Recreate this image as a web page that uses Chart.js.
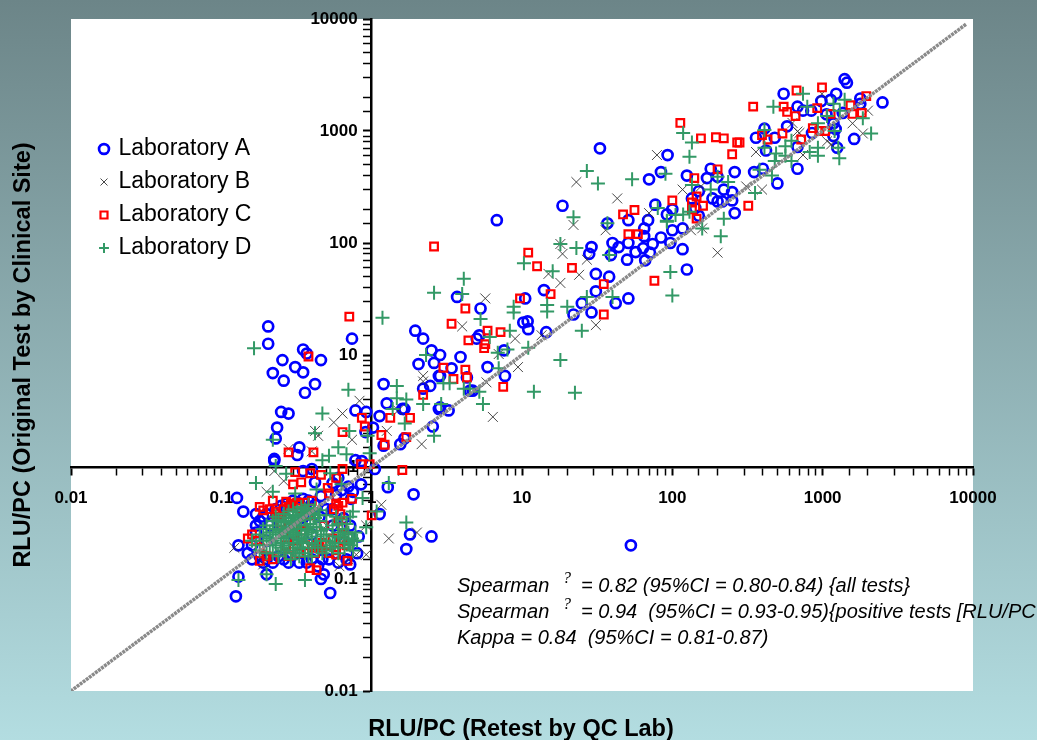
<!DOCTYPE html>
<html><head><meta charset="utf-8">
<script src="https://cdn.jsdelivr.net/npm/chart.js@4/dist/chart.umd.min.js"></script>
<style>html,body{margin:0;padding:0;width:1037px;height:740px;overflow:hidden;background:linear-gradient(180deg,#6c8588 0%,#b3dde1 100%)}canvas{display:block}</style>
</head><body><canvas id="c" width="1037" height="740"></canvas>
<script>
const seriesNames=['Laboratory A','Laboratory B','Laboratory C','Laboratory D'];
const axisLimits=[0.01,10000];
const identityLine=[[0.0095,0.0095],[9000,9000]];
const labA=[[.205,18],[.205,12.6],[.35,11.2],[.37,10.3],[.255,9],[.46,9],[.31,7.8],[.35,7],[.22,6.9],[.26,5.9],[.42,5.5],[.36,4.6],[.74,14],[.25,3.1],[.28,3],[.235,2.25],[.23,1.8],[.33,1.5],[.32,1.28],[.225,1.18],[.225,1.13],[.78,3.2],[.92,3.1],[.91,2.05],[.78,1.15],[.86,1.13],[.35,.92],[.4,.96],[.42,.73],[.46,.55],[.127,.53],[.14,.4],[.17,.38],[.13,.2],[.13,.105],[.125,.07],[.2,.11],[.46,.1],[.48,.11],[.53,.075],[.72,.135],[.73,.52],[1.05,.96],[1.13,.38],[1.28,.66],[1.9,.57],[1.8,.25],[2.5,.24],[1.7,.185],[53,.2],
[1.95,16.5],[2.2,14],[2.5,11],[2.05,8.3],[2.6,8.5],[2.8,6.5],[1.2,5.5],[2.2,5],[1.26,3.7],[1.6,3.3],[1.65,3.3],[1.13,2.85],[2.55,2.3],[1.02,2.25],[1.2,1.55],[1.55,1.6],[1.65,1.8],[2.8,3.3],
[33,700],[6.8,160],[18.6,215],[93,610],[84,430],[70,370],[77,220],[92,180],[51,160],[69,160],[37,150],[65,135],[65,115],[40,100],[44,92],[51,100],[57,83],[64,90],[74,98],[84,112],[29,92],[28,80],[39,78],[50,71],[71,82],[66,70],[31,53],[38,50],[14,38],[31,37],[10.5,32],[3.7,33],[5.3,26],[25,29],[42,29],[51,32],[22,23],[29,24],[10.9,20],[10.2,19.5],[11,17],[14.5,16],[5.2,15],[5,14],[7.6,11],[3.9,9.6],[2.85,10],[5.9,7.8],[2.85,6.5],[4.3,6.3],[2.45,5.3],[3.4,7.6],[7.7,6.5],[4.5,4.8],[4.7,4.8],[2.85,3.4],[3.25,3.2],
[1400,2900],[1450,2700],[550,2150],[1230,2150],[980,1850],[1130,1900],[1780,1950],[2500,1800],[680,1650],[740,1520],[840,1520],[1060,1410],[1360,1450],[1780,1750],[1180,1170],[580,1100],[410,1050],[850,960],[360,870],[480,870],[1220,1040],[1180,900],[1620,850],[1250,710],[680,720],[420,670],[680,460],[500,340],[400,460],[350,430],[260,430],[180,460],[125,400],[170,380],[200,390],[220,300],[250,285],[150,290],[135,250],[185,250],[200,235],[215,235],[250,240],[260,185],[100,200],[142,205],[150,175],[100,130],[117,135],[97,100],[117,88],[125,58],
[.15,.17],[.16,.15],[.16,.2],[.17,.26],[.17,.3],[.18,.33],[.18,.16],[.19,.36],[.19,.14],[.2,.38],[.2,.15],[.21,.3],[.22,.14],[.23,.42],[.24,.16],[.25,.45],[.26,.15],[.27,.47],[.28,.14],[.3,.5],[.32,.48],[.33,.14],[.35,.52],[.37,.14],[.38,.5],[.4,.15],[.42,.46],[.44,.13],[.45,.36],[.47,.15],[.5,.42],[.52,.15],[.55,.42],[.58,.56],[.6,.14],[.63,.62],[.65,.35],[.68,.15],[.7,.67],[.72,.3],[.75,.6],[.8,.17],[.82,.24],[.55,.3],[.3,.25],[.25,.3],[.35,.35],[.4,.25],[.6,.25],[.2,.22],[.85,.7],[.6,.8],[.55,.72]];
const labB=[[.83,3.9],[.64,3],[.56,2.5],[.42,2.1],[.44,1.9],[.74,1.75],[.28,1.45],[.4,1.38],[.225,.92],[.26,.75],[.2,.6],[2.15,1.6],[2.2,6.5],[1.3,.23],[2,.26],[1.16,.46],[.92,.3],[.122,.19],[.19,.135],[.61,.13],[.79,.165],[.92,.165],[1.26,2.1],[.19,.16],[.7,.15],
[79,610],[23,350],[43,250],[70,185],[22,145],[36,130],[18,98],[18.6,80],[27,71],[15,53],[24,52],[18,44],[5.7,32],[4,18],[9,14],[13.5,15],[31,18.5],[7,10.2],[2.2,5.8],[9.4,7.8],[5.8,5.7],[6.4,2.8],[1.5,3.2],
[117,300],[155,320],[310,320],[395,300],[360,650],[680,990],[700,960],[740,610],[1140,760],[1070,810],[1580,1170],[1850,950],[2000,1520],[630,1180],[990,2150],[200,82],[133,130],[158,135],[.5,.3],[.3,.35],[.25,.2]];
const labC=[[.71,22],[.38,9.7],[.86,2.75],[.9,2.3],[.64,2.05],[.28,1.35],[.41,1.35],[2.2,4.4],[1.33,2.75],[1.8,2.75],[1.16,1.93],[1.7,1.85],[1.22,1.58],[1.6,.94],[.97,1.06],[.85,1.06],[.64,.96],[.58,.8],[.46,.85],[.39,.88],[.31,.9],[.3,.7],[.34,.73],[.51,.65],[.52,.58],[.58,.47],[.74,.52],[.64,.48],[1,.37],[.18,.44],[.19,.41],[.22,.5],[.27,.49],[.32,.48],[.18,.145],[.15,.23],[.39,.125],[.43,.12],[.69,.145],[.58,.165],
[2.6,93],[11,82],[12.6,62],[21.5,60],[47,180],[56,197],[51,120],[59,120],[76,46],[35,43],[9.7,32],[15.5,35],[35,23],[4.2,26],[3.4,19],[5.9,16.5],[7.2,16],[4.4,13.5],[5.7,12.5],[5.6,11.5],[3,7.7],[4.2,7.4],[4.3,6.3],[3.5,6.1],[7.5,5.2],
[990,2450],[670,2300],[1950,2050],[345,1650],[550,1650],[580,1480],[660,1360],[920,1600],[1130,1420],[1530,1700],[1580,1420],[1820,1450],[113,1180],[540,950],[395,920],[430,840],[860,1060],[950,1000],[1040,1000],[720,840],[195,880],[220,860],[155,860],[270,790],[280,790],[250,620],[200,455],[140,380],[100,240],[145,260],[135,230],[160,215],[320,215],[145,165],[135,200],
[.16,.25],[.17,.22],[.18,.19],[.2,.16],[.22,.15],[.23,.4],[.24,.36],[.25,.32],[.26,.42],[.26,.26],[.27,.2],[.28,.44],[.28,.16],[.3,.45],[.3,.3],[.31,.22],[.32,.43],[.33,.46],[.33,.17],[.35,.27],[.36,.2],[.38,.37],[.4,.19],[.42,.17],[.43,.2],[.45,.19],[.47,.21],[.48,.3],[.5,.2],[.52,.17],[.55,.23],[.58,.18],[.6,.33],[.62,.38],[.65,.22],[.68,.2],[.7,.24],[.56,.42],[.6,.45],[.64,.29],[.23,.38],[.25,.36],[.21,.42],[.4,.5],[.36,.48],[.29,.47]];
const labD=[[.165,11.5],[1.18,21.5],[.7,4.9],[1.47,5.3],[1.47,4.1],[1.7,4],[1.38,3.3],[.47,3],[1.66,2.45],[2.2,3.65],[.71,2.1],[.42,2],[.22,1.75],[.94,1.9],[2.6,1.9],[.6,1.5],[.97,1.33],[.68,1.3],[.52,1.26],[.47,1.15],[.23,1.02],[.27,.87],[.17,.72],[1.3,.72],[.22,.6],[.43,.63],[.31,.58],[.53,.88],[.63,.7],[1.08,.4],[1.7,.32],[.92,.29],[.36,.098],[.23,.09],[.13,.098],[.2,.11],[.75,.4],[.87,.53],
[27,440],[32,340],[54,370],[90,415],[92,158],[22,170],[37,150],[18,98],[23,90],[38,78],[4.1,48],[2.6,36],[4,35],[10.3,66],[16,56],[27,33],[40,33],[8.8,27],[8.8,24],[14.7,28],[14.7,24.5],[20,27],[25,16.5],[5.3,21],[8.3,16.5],[6.1,14.5],[11,11.6],[8,11.2],[6.9,10.5],[18,9],[2.3,10],[7,7.6],[3,5.6],[3.3,5.6],[4.5,5],[4.1,5],[5.2,4.7],[12,4.7],[22.5,4.6],[5.5,3.65],[2.9,3.65],
[740,2150],[470,1650],[790,1650],[1400,1900],[1180,1750],[1300,1520],[1850,1300],[2100,950],[1070,1360],[930,1170],[1200,1000],[1270,710],[1290,570],[410,1020],[118,960],[135,790],[130,590],[410,710],[490,630],[565,730],[620,820],[565,600],[480,540],[620,540],[820,650],[930,710],[930,600],[380,450],[460,400],[235,350],[355,280],[200,390],[135,330],[180,300],[118,180],[105,178],[130,190],[92,155],[80,205],[220,165],[158,135],[210,115],[97,55],[100,34],
[.16,.22],[.17,.2],[.18,.25],[.18,.18],[.19,.28],[.19,.22],[.2,.17],[.2,.3],[.2,.24],[.21,.2],[.21,.26],[.22,.33],[.22,.28],[.22,.22],[.22,.17],[.23,.36],[.23,.3],[.23,.25],[.23,.2],[.24,.16],[.24,.34],[.25,.28],[.25,.23],[.25,.19],[.26,.38],[.26,.32],[.26,.26],[.26,.21],[.27,.17],[.28,.4],[.28,.35],[.28,.29],[.28,.24],[.28,.2],[.29,.15],[.3,.42],[.3,.37],[.3,.31],[.3,.26],[.3,.21],[.3,.18],[.32,.4],[.32,.34],[.32,.28],[.32,.23],[.32,.19],[.33,.16],[.34,.44],[.34,.37],[.34,.3],[.34,.25],[.35,.21],[.36,.17],[.36,.42],[.36,.34],[.37,.28],[.37,.23],[.38,.19],[.38,.46],[.39,.38],[.39,.31],[.4,.26],[.4,.21],[.4,.16],[.42,.43],[.42,.35],[.43,.29],[.43,.24],[.44,.19],[.45,.41],[.45,.33],[.46,.27],[.46,.22],[.47,.17],[.5,.37],[.5,.28],[.5,.22],[.5,.18],[.55,.3],[.55,.24],[.55,.19],[.58,.36],[.6,.31],[.6,.26],[.6,.21],[.6,.17],[.63,.34],[.64,.28],[.65,.23],[.66,.19],[.68,.31],[.7,.26],[.7,.21],[.72,.36],[.74,.23],[.75,.18],[.78,.26],[.8,.22],
[.21,.23],[.24,.27],[.27,.33],[.29,.27],[.29,.33],[.31,.36],[.33,.33],[.35,.38],[.37,.4],[.41,.39],[.44,.37],[.25,.21],[.27,.24],[.31,.25],[.33,.22],[.36,.25],[.38,.27],[.41,.29],[.26,.18],[.31,.17],[.34,.19],[.38,.16],[.42,.2],[.48,.25],[.53,.2],[.57,.21],[.62,.24],[.67,.25],[.72,.2],[.76,.22]];
const xTitle='RLU/PC (Retest by QC Lab)';
const yTitle='RLU/PC (Original Test by Clinical Site)';
const noteLines=[
 ['Spearman','= 0.82 (95%CI = 0.80-0.84) {all tests}'],
 ['Spearman','= 0.94  (95%CI = 0.93-0.95){positive tests [RLU/PC'],
 ['Kappa = 0.84  (95%CI = 0.81-0.87)','']];

const pts=a=>a.map(([x,y])=>({x,y}));
Chart.defaults.font.family='"Liberation Sans", Arial, sans-serif';
const isPow=v=>Math.abs(Math.log10(v)-Math.round(Math.log10(v)))<1e-6;
const axis=(pos)=>({type:'logarithmic',min:axisLimits[0],max:axisLimits[1],position:pos,
  border:{display:true,color:'#000',width:2.5},
  grid:{display:true,drawOnChartArea:false,drawTicks:true,tickLength:7,tickColor:'#000',
        tickWidth:c=>c.tick&&isPow(c.tick.value)?2:1.5},
  ticks:{autoSkip:false,maxRotation:0,minRotation:0,color:'#000',font:{size:17,weight:'bold'},
         padding:pos.y?14:7,callback:v=>isPow(v)?String(+v):''}});
const decor={id:'decor',
 beforeDraw(ch){const {ctx,chartArea:a}=ch;ctx.save();ctx.fillStyle='#fff';ctx.fillRect(a.left,a.top,a.right-a.left,a.bottom-a.top);ctx.restore();},
 afterLayout(ch){const l=ch.legend;if(l){l.left=91;l.top=127.5;l.right=l.left+l.width;l.bottom=l.top+l.height;if(l.adjustHitBoxes)l.adjustHitBoxes();}
   ch.scales.y.getLabelItems(ch.chartArea).forEach(it=>{const t=it.options.translation;t[0]-=14;});},
 afterDraw(ch){const {ctx}=ch;ctx.save();ctx.fillStyle='#000';ctx.textBaseline='alphabetic';
  ctx.font='bold 23.5px "Liberation Sans"';ctx.textAlign='center';
  ctx.fillText(xTitle,521,736);
  ctx.save();ctx.translate(30,355);ctx.rotate(-Math.PI/2);ctx.fillText(yTitle,0,0);ctx.restore();
  ctx.textAlign='left';ctx.font='italic 20px "Liberation Sans"';
  const ys=[592,618,644];
  noteLines.forEach((n,i)=>{ctx.fillText(n[0],457,ys[i]);
    if(n[1]){ctx.fillText(n[1],581,ys[i]);}});
  ctx.font='italic 16px "Liberation Serif"';
  [0,1].forEach(i=>ctx.fillText('?',563,ys[i]-9));
  ctx.restore();}};
new Chart(document.getElementById('c'),{type:'scatter',
 data:{datasets:[
  {label:seriesNames[0],data:pts(labA),order:4,pointStyle:'circle',pointRadius:5,borderColor:'#0000ff',backgroundColor:'rgba(0,0,0,0)',borderWidth:2.7,pointBorderWidth:2.7},
  {label:seriesNames[1],data:pts(labB),order:3,pointStyle:'crossRot',pointRadius:7,borderColor:'#333',backgroundColor:'#333',borderWidth:.9,pointBorderWidth:.9},
  {label:seriesNames[2],data:pts(labC),order:2,pointStyle:'rect',pointRadius:5.4,borderColor:'#ff0000',backgroundColor:'rgba(0,0,0,0)',borderWidth:2.2,pointBorderWidth:2.2},
  {label:seriesNames[3],data:pts(labD),order:1,pointStyle:'cross',pointRadius:7,borderColor:'#339966',backgroundColor:'#339966',borderWidth:2,pointBorderWidth:2},
  {label:'y = x',data:pts(identityLine),order:0,showLine:true,pointRadius:0,borderColor:'#8a8a8a',borderWidth:3.5,borderDash:[3,.8]}
 ]},
 options:{responsive:false,animation:false,devicePixelRatio:1,
  layout:{autoPadding:false,padding:{left:71,top:19,right:64,bottom:49}},
  scales:{x:axis({y:1}),y:axis({x:1})},
  plugins:{tooltip:{enabled:false},title:{display:false},
   legend:{display:true,position:'chartArea',align:'start',
    labels:{usePointStyle:true,boxWidth:6,boxHeight:7,padding:10,color:'#000',font:{size:23},
     filter:i=>i.datasetIndex<4,sort:(a,b)=>a.datasetIndex-b.datasetIndex}}}},
 plugins:[decor]});
</script></body></html>
